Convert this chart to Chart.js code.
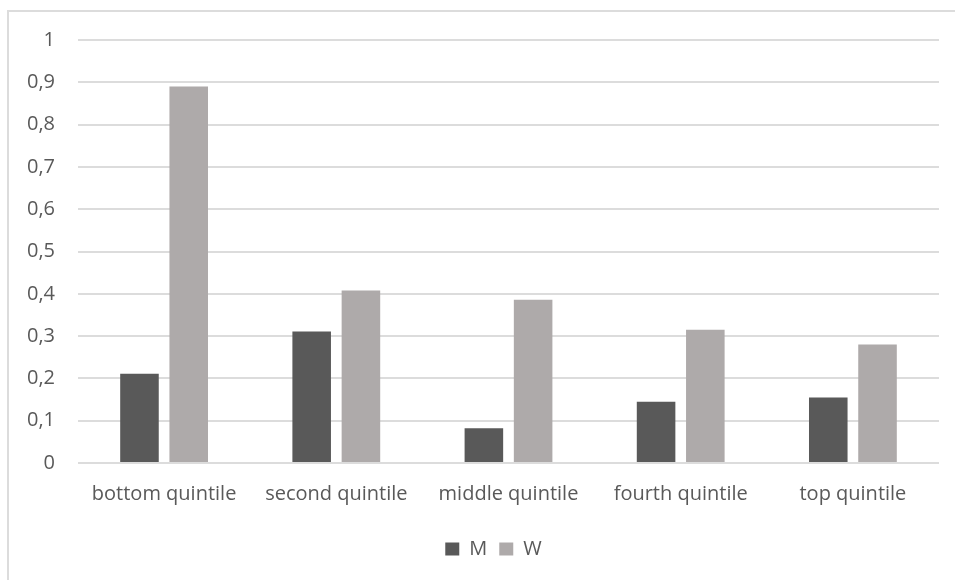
<!DOCTYPE html>
<html>
<head>
<meta charset="utf-8">
<script src="https://cdn.jsdelivr.net/npm/chart.js@4/dist/chart.umd.min.js"></script>
<style>
  html, body { margin: 0; padding: 0; background: #ffffff; }
  #wrap { position: relative; width: 955px; height: 580px; overflow: hidden; }
  #frame { position: absolute; left: 7px; top: 10px; width: 980px; height: 600px;
           border: 2px solid #dcdcdc; box-sizing: border-box; }
  canvas { position: absolute; left: 0; top: 0; }
</style>
</head>
<body>
<div id="wrap">
  <div id="frame"></div>
  <canvas id="chart" width="955" height="580"></canvas>
</div>
<script>
// Quintile categories and share per group
const categories = ['bottom quintile', 'second quintile', 'middle quintile', 'fourth quintile', 'top quintile'];
const menValues = [0.211, 0.311, 0.082, 0.145, 0.155];
const womenValues = [0.89, 0.408, 0.386, 0.315, 0.28];
const yTickLabels = ['0', '0,1', '0,2', '0,3', '0,4', '0,5', '0,6', '0,7', '0,8', '0,9', '1'];

const textColor = '#595959';
const baseFont = { family: '"Open Sans", sans-serif', size: 20 };

// The frame runs past the right edge, so the legend sits a little right of the canvas centre
const legendShift = {
  id: 'legendShift',
  afterLayout(chart) {
    if (chart.legend) {
      chart.legend.left += 24;
      chart.legend.right += 24;
    }
  }
};

new Chart(document.getElementById('chart'), {
  type: 'bar',
  data: {
    labels: categories,
    datasets: [
      { label: 'M', data: menValues, backgroundColor: '#595959',
        categoryPercentage: 0.572, barPercentage: 0.783 },
      { label: 'W', data: womenValues, backgroundColor: '#aeaaaa',
        categoryPercentage: 0.572, barPercentage: 0.783 }
    ]
  },
  plugins: [legendShift],
  options: {
    responsive: false,
    animation: false,
    layout: { padding: { left: 0, right: 16, top: 40, bottom: 11 } },
    plugins: {
      tooltip: { enabled: false },
      legend: {
        position: 'bottom',
        labels: { color: textColor, font: baseFont, boxWidth: 14, boxHeight: 13, padding: 12 }
      }
    },
    scales: {
      x: {
        grid: { display: false, drawTicks: false },
        border: { display: false },
        ticks: { color: textColor, font: baseFont, padding: 19, maxRotation: 0, autoSkip: false },
        afterFit: s => { s.height = 64; }
      },
      y: {
        min: 0, max: 1,
        grid: { color: '#dcdcdc', lineWidth: 2, drawTicks: false },
        border: { display: false },
        ticks: {
          stepSize: 0.1, color: textColor, font: baseFont, padding: 23,
          callback: (v, i) => yTickLabels[i]
        },
        afterFit: s => { s.width = 78; }
      }
    }
  }
});
</script>
</body>
</html>
